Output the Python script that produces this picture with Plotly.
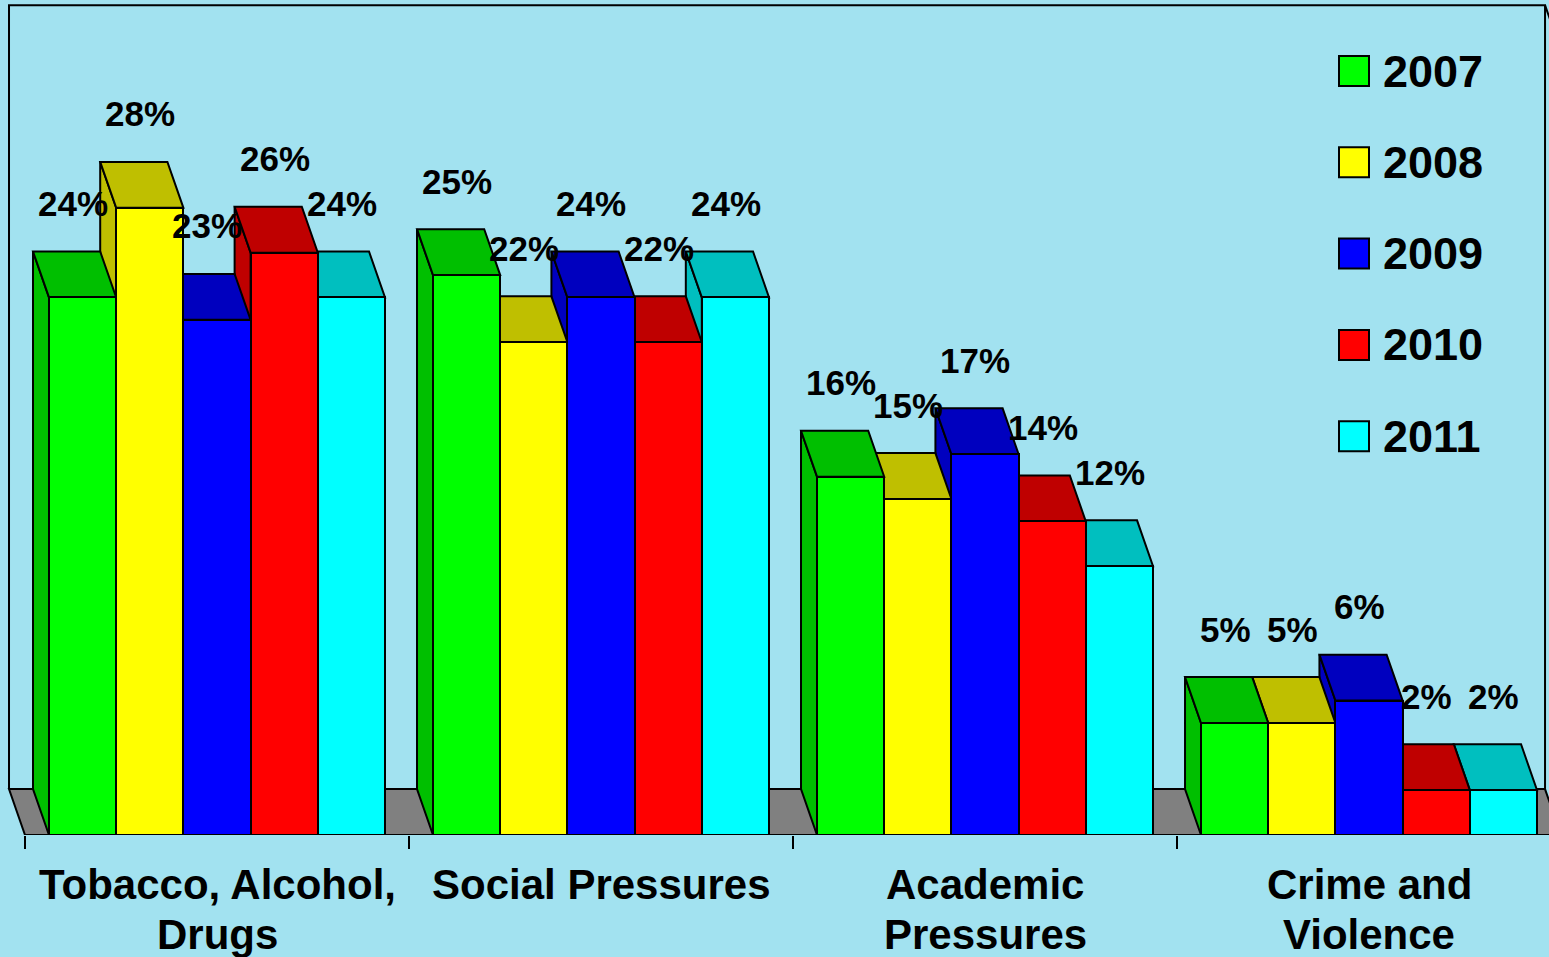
import plotly.graph_objects as go

# ---------------- data ----------------
CATEGORIES = ["Tobacco, Alcohol,<br>Drugs", "Social Pressures",
              "Academic<br>Pressures", "Crime and<br>Violence"]
YEARS = ["2007", "2008", "2009", "2010", "2011"]
V2007 = [24, 25, 16, 5]
V2008 = [28, 22, 15, 5]
V2009 = [23, 24, 17, 6]
V2010 = [26, 22, 14, 2]
V2011 = [24, 24, 12, 2]
SERIES = [V2007, V2008, V2009, V2010, V2011]

# ---------------- style ----------------
FRONT = ["#00FF00", "#FFFF00", "#0000FF", "#FF0000", "#00FFFF"]
DARK = ["#00BF00", "#BFBF00", "#0000BF", "#BF0000", "#00BFBF"]
BG = "#A2E2F0"
FLOOR = "#808080"
FONT = "Liberation Sans, Arial, sans-serif"
W, H = 1549, 957
MARGIN_B = 122

N = len(SERIES)
STEP = 5.714          # group pitch in bar widths
GAP = STEP - N
DX, DY = -0.238, 2.05  # 3-D depth offset (x in bar widths, y in % units)
Y_MAX = 35
X_RANGE = [-0.729, 22.32]
Y_RANGE = [0, 37.28]
LW = 2


def left(g, i):
    return g * STEP + i


shapes = []
floor_l = -GAP / 2
floor_r = (len(CATEGORIES) - 1) * STEP + N + GAP / 2

# back wall + right side wall outline
shapes.append(dict(type="path", xref="x", yref="y", layer="below",
                   path=f"M {floor_l+DX},{DY} L {floor_l+DX},{Y_MAX+DY} "
                        f"L {floor_r+DX},{Y_MAX+DY} L {floor_r+DX},{DY}",
                   line=dict(color="black", width=LW), fillcolor="rgba(0,0,0,0)"))
shapes.append(dict(type="path", xref="x", yref="y", layer="below",
                   path=f"M {floor_r+DX},{Y_MAX+DY} L {floor_r},{Y_MAX} L {floor_r},0",
                   line=dict(color="black", width=LW), fillcolor="rgba(0,0,0,0)"))
# floor
shapes.append(dict(type="path", xref="x", yref="y", layer="below",
                   path=f"M {floor_l},0 L {floor_r},0 L {floor_r+DX},{DY} L {floor_l+DX},{DY} Z",
                   line=dict(color="black", width=LW), fillcolor=FLOOR))

# side and top faces, drawn right-to-left so that left bars sit in front
for g in reversed(range(len(CATEGORIES))):
    for i in reversed(range(N)):
        v = SERIES[i][g]
        xl = left(g, i)
        xr = xl + 1
        shapes.append(dict(type="path", xref="x", yref="y", layer="below",
                           path=f"M {xl},0 L {xl},{v} L {xl+DX},{v+DY} L {xl+DX},{DY} Z",
                           line=dict(color="black", width=LW), fillcolor=DARK[i]))
        shapes.append(dict(type="path", xref="x", yref="y", layer="below",
                           path=f"M {xl},{v} L {xr},{v} L {xr+DX},{v+DY} L {xl+DX},{v+DY} Z",
                           line=dict(color="black", width=LW), fillcolor=DARK[i]))

fig = go.Figure()
for i, (yr, vals) in enumerate(zip(YEARS, SERIES)):
    fig.add_trace(go.Bar(
        name=yr,
        x=[left(g, i) + 0.5 for g in range(len(CATEGORIES))],
        y=vals, width=1, base=0,
        marker=dict(color=FRONT[i], line=dict(color="black", width=LW)),
        showlegend=False, hoverinfo="skip"))

annotations = []
# value labels
for i, vals in enumerate(SERIES):
    for g, v in enumerate(vals):
        annotations.append(dict(
            x=left(g, i) + 0.5 + 0.6 * DX, y=v + DY, xref="x", yref="y",
            text=f"<b>{v}%</b>", showarrow=False, yanchor="middle", yshift=48,
            font=dict(family=FONT, size=35, color="black")))

# category labels (one annotation per line)
for g, cat in enumerate(CATEGORIES):
    for k, line in enumerate(cat.split("<br>")):
        annotations.append(dict(
            x=left(g, 0) + N / 2, y=0, xref="x", yref="paper",
            text=f"<b>{line}</b>", showarrow=False, yanchor="top",
            yshift=-24 - 50 * k,
            font=dict(family=FONT, size=42, color="black")))

# legend (manual, large squares)
plot_h = H - MARGIN_B
for k, yr in enumerate(YEARS):
    cy = 71 + k * 91.3
    shapes.append(dict(type="rect", xref="paper", yref="paper", layer="above",
                       x0=1339 / W, x1=1369 / W,
                       y0=(plot_h - cy - 15) / plot_h, y1=(plot_h - cy + 15) / plot_h,
                       line=dict(color="black", width=LW), fillcolor=FRONT[k]))
    annotations.append(dict(
        x=1381 / W, y=(plot_h - cy) / plot_h, xref="paper", yref="paper",
        text=f"<b>{yr}</b>", showarrow=False, xanchor="left", yanchor="middle",
        font=dict(family=FONT, size=45, color="black")))

fig.update_layout(
    width=W, height=H, autosize=False,
    margin=dict(l=0, r=0, t=0, b=MARGIN_B, pad=0),
    paper_bgcolor=BG, plot_bgcolor=BG,
    barmode="overlay", bargap=0,
    shapes=shapes, annotations=annotations,
    font=dict(family=FONT),
    xaxis=dict(range=X_RANGE, tickvals=[g * STEP - GAP / 2 for g in range(len(CATEGORIES))],
               ticks="outside", ticklen=13, tickwidth=LW, tickcolor="black",
               showticklabels=False, showgrid=False, zeroline=False, showline=False,
               fixedrange=True),
    yaxis=dict(range=Y_RANGE, visible=False, showgrid=False, zeroline=False,
               fixedrange=True),
)

fig.write_html("out.html", config={"displayModeBar": False},
               post_script="document.body.style.margin='0';"
                           "document.body.style.overflow='hidden';"
                           f"document.body.style.background='{BG}';")
